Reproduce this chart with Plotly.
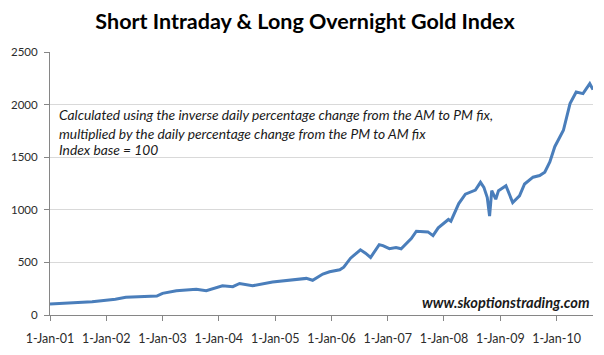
import plotly.graph_objects as go

dates = [
    "2001-01-01", "2001-04-01", "2001-07-01", "2001-10-01", "2002-01-01", "2002-03-01",
    "2002-05-08", "2002-08-01", "2002-11-25", "2003-01-01", "2003-04-01", "2003-08-08",
    "2003-10-12", "2004-01-25", "2004-04-01", "2004-05-15", "2004-08-07", "2004-12-15",
    "2005-04-20", "2005-07-22", "2005-09-01", "2005-11-06", "2005-12-20", "2006-02-24",
    "2006-03-22", "2006-05-05", "2006-07-08", "2006-08-10", "2006-09-12", "2006-11-07",
    "2006-12-01", "2007-01-12", "2007-02-24", "2007-03-29", "2007-06-03", "2007-07-06",
    "2007-09-19", "2007-10-22", "2007-11-25", "2008-01-30", "2008-02-15", "2008-04-06",
    "2008-05-19", "2008-07-23", "2008-08-25", "2008-09-16", "2008-10-08", "2008-10-23",
    "2008-11-06", "2008-12-02", "2008-12-20", "2009-02-06", "2009-03-22", "2009-05-05",
    "2009-06-07", "2009-08-01", "2009-09-13", "2009-10-16", "2009-11-18", "2009-12-20",
    "2010-02-14", "2010-03-29", "2010-05-08", "2010-06-21", "2010-08-04", "2010-08-25",
]
index_values = [
    105, 108, 118, 125, 136, 150,
    168, 172, 180, 206, 231, 244,
    231, 278, 269, 300, 278, 313,
    332, 348, 330, 389, 411, 430,
    455, 540, 620, 588, 547, 668,
    659, 630, 642, 630, 726, 796,
    790, 754, 828, 908, 892, 1059,
    1149, 1187, 1261, 1213, 1117, 940,
    1182, 1101, 1182, 1229, 1069, 1133,
    1245, 1310, 1326, 1357, 1454, 1600,
    1756, 2009, 2119, 2104, 2199, 2142,
]

tick_dates = ["2001-01-01", "2002-01-01", "2003-01-01", "2004-01-01", "2005-01-01",
              "2006-01-01", "2007-01-01", "2008-01-01", "2009-01-01", "2010-01-01"]
tick_labels = ["1-Jan-01", "1-Jan-02", "1-Jan-03", "1-Jan-04", "1-Jan-05",
               "1-Jan-06", "1-Jan-07", "1-Jan-08", "1-Jan-09", "1-Jan-10"]

title_text = "Short Intraday &amp; Long Overnight Gold Index"
note_lines = [
    "Calculated using the inverse daily percentage change from the AM to PM fix,",
    "multiplied by the daily percentage change from the PM to AM fix",
    "Index base = 100",
]
watermark = "www.skoptionstrading.com"

FONT = "Lato"

fig = go.Figure()
fig.add_trace(go.Scatter(
    x=dates, y=index_values, mode="lines",
    line=dict(color="#4a7ebb", width=3),
    hoverinfo="skip", showlegend=False, cliponaxis=False,
))

fig.update_layout(
    width=604, height=355,
    margin=dict(l=50, r=11, t=52, b=40, pad=0),
    paper_bgcolor="white", plot_bgcolor="white",
    title=dict(text="<b>" + title_text + "</b>", x=0.505, xanchor="center",
               y=1 - 21 / 355, yanchor="middle",
               font=dict(family=FONT, size=21.5, color="#000000")),
    font=dict(family=FONT, color="#2b2b2b"),
)

fig.update_xaxes(
    type="date", range=["2001-01-01", "2010-08-25"],
    tickvals=tick_dates, ticktext=tick_labels,
    showgrid=False, zeroline=False, automargin=False,
    showline=True, linecolor="#868686", linewidth=1,
    ticks="outside", ticklen=5, tickcolor="#868686",
    ticklabelstandoff=7,
    tickfont=dict(family=FONT, size=12.5, color="#2b2b2b"),
)
fig.update_yaxes(
    range=[0, 2500], dtick=500, tick0=0,
    showgrid=True, gridcolor="#d9d9d9", gridwidth=1,
    zeroline=False, automargin=False,
    showline=True, linecolor="#868686", linewidth=1,
    ticks="outside", ticklen=5, tickcolor="#868686",
    ticklabelstandoff=4,
    tickfont=dict(family=FONT, size=11.5, color="#2b2b2b"),
)

note_y = [0.762, 0.692, 0.628]
for txt, yy in zip(note_lines, note_y):
    fig.add_annotation(
        text="<i>" + txt + "</i>", xref="paper", yref="paper",
        x=0.013, y=yy, xanchor="left", yanchor="middle", showarrow=False,
        font=dict(family=FONT, size=13.8, color="#1a1a1a"),
    )

fig.add_annotation(
    text="<b><i>" + watermark + "</i></b>", xref="paper", yref="paper",
    x=0.998, y=0.046, xanchor="right", yanchor="middle", showarrow=False,
    font=dict(family=FONT, size=14.6, color="#1a1a1a"),
)

fig.write_html("out.html", post_script="document.body.style.margin='0';",
               config={"displayModeBar": False})
